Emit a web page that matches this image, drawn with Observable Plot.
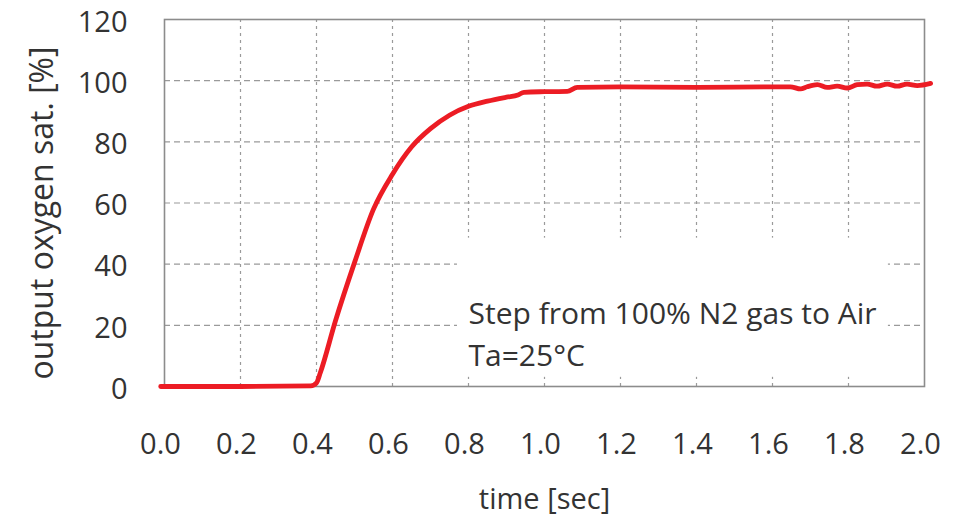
<!DOCTYPE html>
<html>
<head>
<meta charset="utf-8">
<script src="https://cdn.jsdelivr.net/npm/d3@7"></script>
<script src="https://cdn.jsdelivr.net/npm/@observablehq/plot@0.6"></script>
<style>
  html, body { margin: 0; padding: 0; background: #fff; }
  #chart { width: 962px; height: 523px; }
</style>
</head>
<body>
<div id="chart"></div>
<script>
// time [sec]
const time = [-0.01, 0.20, 0.385, 0.40, 0.41, 0.45, 0.50, 0.55, 0.60, 0.65, 0.70, 0.75, 0.80, 0.85, 0.90, 0.93, 0.946, 1.00, 1.06, 1.086, 1.20, 1.40, 1.60, 1.647, 1.674, 1.691, 1.718, 1.744, 1.770, 1.797, 1.823, 1.849, 1.875, 1.902, 1.928, 1.954, 1.981, 2.016];
// output oxygen saturation [%]
const oxygen = [0, 0, 0.2, 1.2, 4.5, 21.5, 40.5, 58.0, 69.4, 78.3, 84.3, 88.7, 91.6, 93.3, 94.6, 95.3, 96.2, 96.4, 96.5, 97.8, 98.0, 97.8, 98.0, 98.0, 97.3, 98.0, 98.7, 97.8, 98.2, 97.6, 98.7, 98.9, 98.2, 98.9, 98.2, 98.9, 98.4, 99.1];

const xTicks = [0, 0.2, 0.4, 0.6, 0.8, 1.0, 1.2, 1.4, 1.6, 1.8, 2.0];
const yTicks = [0, 20, 40, 60, 80, 100, 120];
const gridX = [0.2, 0.4, 0.6, 0.8, 1.0, 1.2, 1.4, 1.6, 1.8];
const gridY = [20, 40, 60, 80, 100];

const xLabel = "time [sec]";
const yLabel = "output oxygen sat. [%]";
const noteLines = ["Step from 100% N2 gas to Air", "Ta=25°C"];
const noteX = [0.80, 0.80];
const noteY = [23.5, 9.8];
// white background box behind the annotation (data units)
const noteBox = [{x1: 0.771, x2: 1.905, y1: 3, y2: 48.5}];

const data = time.map((t, i) => ({t, v: oxygen[i]}));
const notes = noteLines.map((s, i) => ({s, x: noteX[i], y: noteY[i]}));

const FONT = "Open Sans";
const TXT = "#333";

const chart = Plot.plot({
  width: 962,
  height: 523,
  marginLeft: 164,
  marginRight: 38,
  marginTop: 19,
  marginBottom: 137,
  style: {fontFamily: FONT, fontSize: "29px", color: TXT, background: "#fff"},
  x: {domain: [0, 2]},
  y: {domain: [0, 120]},
  marks: [
    Plot.ruleX(gridX, {stroke: "#9a9a9a", strokeWidth: 1.2, strokeDasharray: "3,4"}),
    Plot.ruleY(gridY, {stroke: "#9a9a9a", strokeWidth: 1.2, strokeDasharray: "6,4"}),
    Plot.rect(noteBox, {x1: "x1", x2: "x2", y1: "y1", y2: "y2", fill: "#fff"}),
    Plot.frame({stroke: "#8c8c8c", strokeWidth: 1.6}),
    Plot.axisX(xTicks, {
      tickSize: 0, tickPadding: 47, dx: -4,
      tickFormat: d3.format(".1f"),
      fontSize: 29, fill: TXT, label: null
    }),
    Plot.axisY(yTicks, {
      tickSize: 0, tickPadding: 37, dy: 3,
      tickFormat: d3.format("d"),
      fontSize: 29, fill: TXT, label: null
    }),
    Plot.line(data, {x: "t", y: "v", stroke: "#ec1c24", strokeWidth: 4.8, curve: "monotone-x"}),
    Plot.text(notes, {x: "x", y: "y", text: "s", textAnchor: "start", lineAnchor: "middle", fontSize: 30, fill: TXT}),
    Plot.text([xLabel], {frameAnchor: "bottom", dy: 113, lineAnchor: "middle", fontSize: 29, fill: TXT}),
    Plot.text([yLabel], {frameAnchor: "left", dx: -122, dy: 10, rotate: -90, textAnchor: "middle", lineAnchor: "middle", fontSize: 32, fill: TXT})
  ]
});
document.getElementById("chart").appendChild(chart);
</script>
</body>
</html>
